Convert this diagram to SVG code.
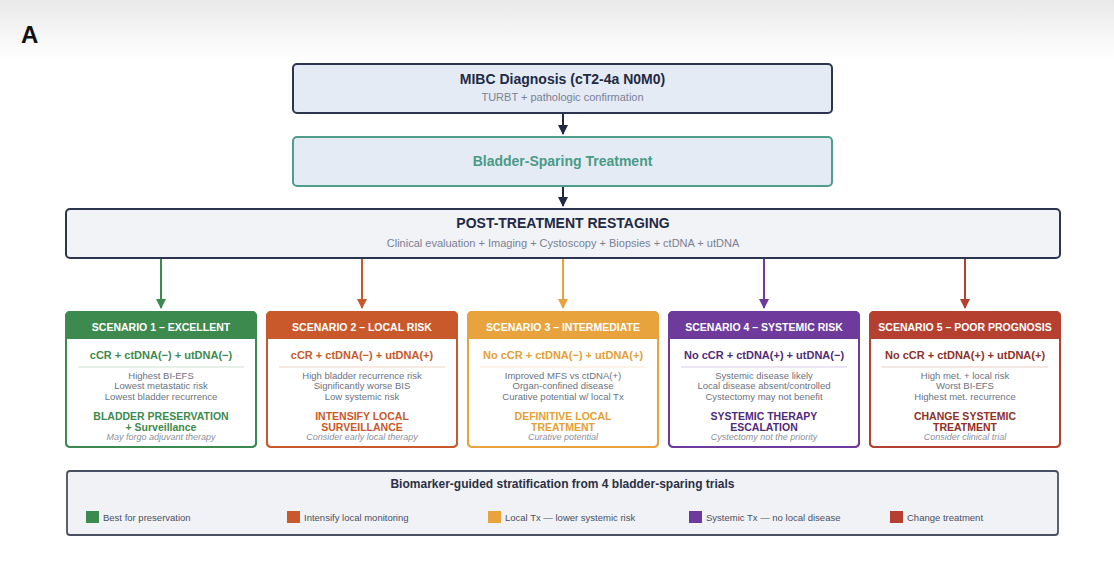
<svg xmlns="http://www.w3.org/2000/svg" width="1114" height="567" viewBox="0 0 1114 567">
<defs>
<linearGradient id="topShade" x1="0" y1="0" x2="0" y2="1">
<stop offset="0" stop-color="#e9e9e9"/>
<stop offset="1" stop-color="#ffffff"/>
</linearGradient>
<marker id="arNavy" viewBox="0 0 10 10" refX="9" refY="5" markerWidth="11" markerHeight="10" markerUnits="userSpaceOnUse" orient="auto"><path d="M0,0 L10,5 L0,10 z" fill="#1f2a44"/></marker>
<marker id="arS1" viewBox="0 0 10 10" refX="9" refY="5" markerWidth="11" markerHeight="10" markerUnits="userSpaceOnUse" orient="auto"><path d="M0,0 L10,5 L0,10 z" fill="#3d8a4f"/></marker>
<marker id="arS2" viewBox="0 0 10 10" refX="9" refY="5" markerWidth="11" markerHeight="10" markerUnits="userSpaceOnUse" orient="auto"><path d="M0,0 L10,5 L0,10 z" fill="#c9592a"/></marker>
<marker id="arS3" viewBox="0 0 10 10" refX="9" refY="5" markerWidth="11" markerHeight="10" markerUnits="userSpaceOnUse" orient="auto"><path d="M0,0 L10,5 L0,10 z" fill="#e8a33d"/></marker>
<marker id="arS4" viewBox="0 0 10 10" refX="9" refY="5" markerWidth="11" markerHeight="10" markerUnits="userSpaceOnUse" orient="auto"><path d="M0,0 L10,5 L0,10 z" fill="#6e3b9c"/></marker>
<marker id="arS5" viewBox="0 0 10 10" refX="9" refY="5" markerWidth="11" markerHeight="10" markerUnits="userSpaceOnUse" orient="auto"><path d="M0,0 L10,5 L0,10 z" fill="#b5402f"/></marker>
</defs>
<style>
text{font-family:"Liberation Sans",Arial,Helvetica,sans-serif;}
.t{font-weight:bold;font-size:14px;text-anchor:middle;}
.sub{font-size:11px;fill:#7a8194;text-anchor:middle;}
.hd{font-weight:bold;font-size:10.5px;fill:#ffffff;text-anchor:middle;}
.cond{font-weight:bold;font-size:11px;text-anchor:middle;}
.det{font-size:9.5px;fill:#6b7280;text-anchor:middle;}
.act{font-weight:bold;font-size:10.5px;text-anchor:middle;}
.it{font-style:italic;font-size:9px;fill:#8a8f9c;text-anchor:middle;}
.card{fill:#ffffff;stroke-width:2;}
.border{fill:none;stroke-width:2;}
.sep{stroke-width:1;opacity:0.25;}
.leg{font-size:9.5px;fill:#4a5064;}
.conn{fill:none;stroke-width:2;}
</style>
<rect x="0" y="0" width="1114" height="567" fill="#ffffff"/>
<rect x="0" y="0" width="1114" height="60" fill="url(#topShade)"/>
<text x="21" y="43" font-size="24" font-weight="bold" fill="#111111">A</text>

<g id="connectors">
<line class="conn" x1="563" y1="114" x2="563" y2="134" stroke="#1f2a44" marker-end="url(#arNavy)"/>
<line class="conn" x1="563" y1="187" x2="563" y2="206" stroke="#1f2a44" marker-end="url(#arNavy)"/>
<line class="conn" x1="161" y1="259" x2="161" y2="308" stroke="#3d8a4f" marker-end="url(#arS1)"/>
<line class="conn" x1="362" y1="259" x2="362" y2="308" stroke="#c9592a" marker-end="url(#arS2)"/>
<line class="conn" x1="563" y1="259" x2="563" y2="308" stroke="#e8a33d" marker-end="url(#arS3)"/>
<line class="conn" x1="764" y1="259" x2="764" y2="308" stroke="#6e3b9c" marker-end="url(#arS4)"/>
<line class="conn" x1="965" y1="259" x2="965" y2="308" stroke="#b5402f" marker-end="url(#arS5)"/>
</g>

<g id="diagnosis">
<rect x="293" y="64" width="539" height="49" rx="4" fill="#e4ebf5" stroke="#2b3550" stroke-width="2"/>
<text class="t" x="562.5" y="84" fill="#1f2a44">MIBC Diagnosis (cT2-4a N0M0)</text>
<text class="sub" x="562.5" y="101">TURBT + pathologic confirmation</text>
</g>

<g id="treatment">
<rect x="293" y="137" width="539" height="49" rx="4" fill="#e4ebf5" stroke="#4f9e8c" stroke-width="2"/>
<text class="t" x="562.5" y="166" fill="#4a9a85">Bladder-Sparing Treatment</text>
</g>

<g id="restaging">
<rect x="66" y="209" width="994" height="49" rx="4" fill="#f1f3f7" stroke="#2b3550" stroke-width="2"/>
<text class="t" x="563" y="228" fill="#1f2a44">POST-TREATMENT RESTAGING</text>
<text class="sub" x="563" y="247">Clinical evaluation + Imaging + Cystoscopy + Biopsies + ctDNA + utDNA</text>
</g>

<g id="scenario1">
<rect class="card" x="66" y="312" width="190" height="135" rx="4" stroke="#3d8a4f"/>
<path d="M66,339 V316 Q66,312 70,312 H252 Q256,312 256,316 V339 Z" fill="#3d8a4f"/>
<rect class="border" x="66" y="312" width="190" height="135" rx="4" stroke="#3d8a4f"/>
<text class="hd" x="161" y="330.5">SCENARIO 1 – EXCELLENT</text>
<text class="cond" x="161" y="359" fill="#3d8a4f">cCR + ctDNA(−) + utDNA(−)</text>
<line class="sep" x1="78" y1="367" x2="244" y2="367" stroke="#3d8a4f"/>
<text class="det" x="161" y="378.5">Highest BI-EFS</text>
<text class="det" x="161" y="389">Lowest metastatic risk</text>
<text class="det" x="161" y="399.5">Lowest bladder recurrence</text>
<text class="act" x="161" y="420" fill="#3d8a4f">BLADDER PRESERVATION</text>
<text class="act" x="161" y="431" fill="#3d8a4f">+ Surveillance</text>
<text class="it" x="161" y="440">May forgo adjuvant therapy</text>
</g>

<g id="scenario2">
<rect class="card" x="267" y="312" width="190" height="135" rx="4" stroke="#c9592a"/>
<path d="M267,339 V316 Q267,312 271,312 H453 Q457,312 457,316 V339 Z" fill="#c9592a"/>
<rect class="border" x="267" y="312" width="190" height="135" rx="4" stroke="#c9592a"/>
<text class="hd" x="362" y="330.5">SCENARIO 2 – LOCAL RISK</text>
<text class="cond" x="362" y="359" fill="#c9592a">cCR + ctDNA(−) + utDNA(+)</text>
<line class="sep" x1="279" y1="367" x2="445" y2="367" stroke="#c9592a"/>
<text class="det" x="362" y="378.5">High bladder recurrence risk</text>
<text class="det" x="362" y="389">Significantly worse BIS</text>
<text class="det" x="362" y="399.5">Low systemic risk</text>
<text class="act" x="362" y="420" fill="#c9592a">INTENSIFY LOCAL</text>
<text class="act" x="362" y="431" fill="#c9592a">SURVEILLANCE</text>
<text class="it" x="362" y="440">Consider early local therapy</text>
</g>

<g id="scenario3">
<rect class="card" x="468" y="312" width="190" height="135" rx="4" stroke="#e8a33d"/>
<path d="M468,339 V316 Q468,312 472,312 H654 Q658,312 658,316 V339 Z" fill="#e8a33d"/>
<rect class="border" x="468" y="312" width="190" height="135" rx="4" stroke="#e8a33d"/>
<text class="hd" x="563" y="330.5">SCENARIO 3 – INTERMEDIATE</text>
<text class="cond" x="563" y="359" fill="#e3a035">No cCR + ctDNA(−) + utDNA(+)</text>
<line class="sep" x1="480" y1="367" x2="646" y2="367" stroke="#e8a33d"/>
<text class="det" x="563" y="378.5">Improved MFS vs ctDNA(+)</text>
<text class="det" x="563" y="389">Organ-confined disease</text>
<text class="det" x="563" y="399.5">Curative potential w/ local Tx</text>
<text class="act" x="563" y="420" fill="#e3a035">DEFINITIVE LOCAL</text>
<text class="act" x="563" y="431" fill="#e3a035">TREATMENT</text>
<text class="it" x="563" y="440">Curative potential</text>
</g>

<g id="scenario4">
<rect class="card" x="669" y="312" width="190" height="135" rx="4" stroke="#6e3b9c"/>
<path d="M669,339 V316 Q669,312 673,312 H855 Q859,312 859,316 V339 Z" fill="#6e3b9c"/>
<rect class="border" x="669" y="312" width="190" height="135" rx="4" stroke="#6e3b9c"/>
<text class="hd" x="764" y="330.5">SCENARIO 4 – SYSTEMIC RISK</text>
<text class="cond" x="764" y="359" fill="#4f2c78">No cCR + ctDNA(+) + utDNA(−)</text>
<line class="sep" x1="681" y1="367" x2="847" y2="367" stroke="#6e3b9c"/>
<text class="det" x="764" y="378.5">Systemic disease likely</text>
<text class="det" x="764" y="389">Local disease absent/controlled</text>
<text class="det" x="764" y="399.5">Cystectomy may not benefit</text>
<text class="act" x="764" y="420" fill="#4f2c78">SYSTEMIC THERAPY</text>
<text class="act" x="764" y="431" fill="#4f2c78">ESCALATION</text>
<text class="it" x="764" y="440">Cystectomy not the priority</text>
</g>

<g id="scenario5">
<rect class="card" x="870" y="312" width="190" height="135" rx="4" stroke="#b5402f"/>
<path d="M870,339 V316 Q870,312 874,312 H1056 Q1060,312 1060,316 V339 Z" fill="#b5402f"/>
<rect class="border" x="870" y="312" width="190" height="135" rx="4" stroke="#b5402f"/>
<text class="hd" x="965" y="330.5">SCENARIO 5 – POOR PROGNOSIS</text>
<text class="cond" x="965" y="359" fill="#8e3128">No cCR + ctDNA(+) + utDNA(+)</text>
<line class="sep" x1="882" y1="367" x2="1048" y2="367" stroke="#b5402f"/>
<text class="det" x="965" y="378.5">High met. + local risk</text>
<text class="det" x="965" y="389">Worst BI-EFS</text>
<text class="det" x="965" y="399.5">Highest met. recurrence</text>
<text class="act" x="965" y="420" fill="#8e3128">CHANGE SYSTEMIC</text>
<text class="act" x="965" y="431" fill="#8e3128">TREATMENT</text>
<text class="it" x="965" y="440">Consider clinical trial</text>
</g>

<g id="legend">
<rect x="67" y="471" width="991" height="64" rx="3" fill="#f1f2f5" stroke="#4a5064" stroke-width="1.8"/>
<text x="562.5" y="488" font-size="12" font-weight="bold" fill="#2a3045" text-anchor="middle">Biomarker-guided stratification from 4 bladder-sparing trials</text>
<rect x="86" y="511" width="13" height="12" fill="#3d8a4f"/>
<text class="leg" x="103" y="520.5">Best for preservation</text>
<rect x="287" y="511" width="13" height="12" fill="#c9592a"/>
<text class="leg" x="304" y="520.5">Intensify local monitoring</text>
<rect x="488" y="511" width="13" height="12" fill="#e8a33d"/>
<text class="leg" x="505" y="520.5">Local Tx — lower systemic risk</text>
<rect x="689" y="511" width="13" height="12" fill="#6e3b9c"/>
<text class="leg" x="706" y="520.5">Systemic Tx — no local disease</text>
<rect x="890" y="511" width="13" height="12" fill="#b5402f"/>
<text class="leg" x="907" y="520.5">Change treatment</text>
</g>
</svg>
